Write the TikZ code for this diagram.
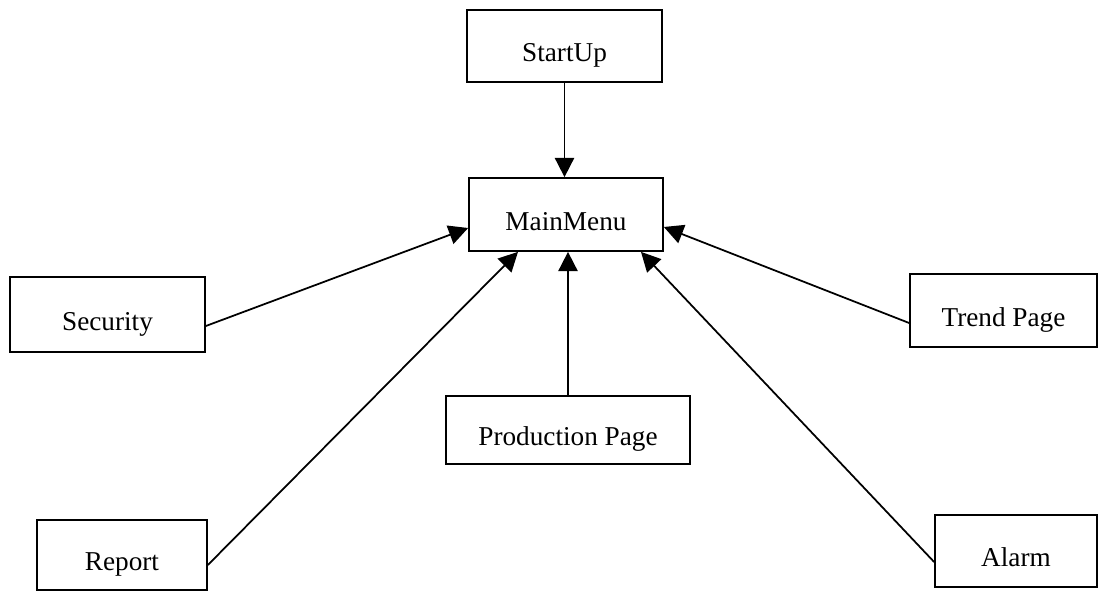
\documentclass[tikz,border=0pt]{standalone}
\usepackage{fontspec}
\setmainfont{Liberation Serif}
\usetikzlibrary{arrows.meta}

\begin{document}
\begin{tikzpicture}[x=0.02cm, y=-0.02cm,
    pagebox/.style={draw=borderColour, line width=1pt, inner sep=0pt,
        text height=18pt, text depth=0pt,
        font=\fontsize{15.5}{18}\selectfont},
    link/.style={draw=borderColour, line width=1pt,
        -{Triangle[length=11pt, width=11pt]}}]

    \definecolor{borderColour}{HTML}{000000}

    % Fix the page size
    \useasboundingbox (0,0) rectangle (1099,591);

    % Draw the pages
    \node[pagebox, minimum width=3.9cm, minimum height=1.44cm] (startup) at (564.5,46) {StartUp};
    \node[pagebox, minimum width=3.88cm, minimum height=1.46cm] (main) at (566,214.5) {MainMenu};
    \node[pagebox, minimum width=3.9cm, minimum height=1.5cm] (sec) at (107.5,314.5) {Security};
    \node[pagebox, minimum width=3.74cm, minimum height=1.46cm] (trend) at (1003.5,310.5) {Trend Page};
    \node[pagebox, minimum width=4.88cm, minimum height=1.36cm] (prod) at (568,430) {Production Page};
    \node[pagebox, minimum width=3.4cm, minimum height=1.4cm] (report) at (122,555) {Report};
    \node[pagebox, minimum width=3.24cm, minimum height=1.44cm] (alarm) at (1016,551) {Alarm};

    % Draw the links into the main menu
    \draw[link] (startup.south) -- (startup.south |- main.north);
    \draw[link] ([yshift=-0.23cm]sec.east) -- ([yshift=-0.27cm]main.west);
    \draw[link] ([yshift=-0.2cm]report.east) -- ([xshift=-0.96cm]main.south);
    \draw[link] (prod.north) -- (prod.north |- main.south);
    \draw[link] ([yshift=-0.22cm]alarm.west) -- ([xshift=1.5cm]main.south);
    \draw[link] ([yshift=-0.25cm]trend.west) -- ([yshift=-0.25cm]main.east);

\end{tikzpicture}
\end{document}
